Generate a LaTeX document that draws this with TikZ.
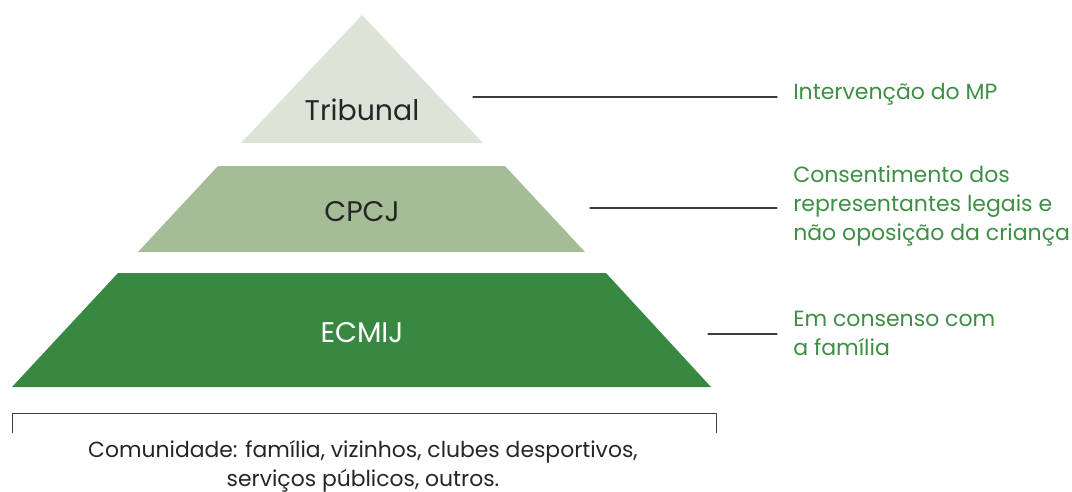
\documentclass[tikz,border=0pt]{standalone}
\usepackage{fontspec}
\setmainfont{Poppins}
\usepackage{tikz}
\usetikzlibrary{positioning}
\definecolor{tribunalfill}{HTML}{DCE4D7}
\definecolor{cpcjfill}{HTML}{A4BD97}
\definecolor{ecmijfill}{HTML}{398842}
\definecolor{labelgreen}{HTML}{3E8F45}
\definecolor{leadgray}{HTML}{3C3C3C}
\tikzset{
  level/.style={font=\fontsize{21.3}{24}\selectfont},
  side/.style={anchor=west,align=left,inner xsep=12pt,text=labelgreen,
    font=\fontsize{16.5}{21.8}\selectfont},
  leader/.style={draw=leadgray,line width=0.9pt},
}
\begin{document}
\begin{tikzpicture}[line cap=round,line join=round,x=0.75pt,y=-0.75pt]
                \useasboundingbox (0,0) rectangle (1072,492);
                \fill [color=tribunalfill] (362,15)-- (483,143)-- (241,143)-- cycle;
                \fill [color=cpcjfill] (218,166)-- (505,166)-- (585,252)-- (138,252)-- cycle;
                \fill [color=ecmijfill] (118,273)-- (606,273)-- (711,387)-- (12,387)-- cycle;
                \node [level,text=black!85] (tribunal) at (362,110) {Tribunal};
                \node [level,text=black!85] (cpcj) at (362,212) {CPCJ};
                \node [level,text=white] (ecmij) at (362,333) {ECMIJ};
                \coordinate (lead1) at (473,97);
                \coordinate (lead2) at (590,208);
                \coordinate (lead3) at (708,334);
                \node [side] (mp) at (777,94) {Intervenção do MP};
                \node [side] (consent) at (777,206) {Consentimento dos\\representantes legais e\\não oposição da criança};
                \node [side] (consenso) at (777,333) {Em consenso com\\a família};
                \draw [leader] (lead1)-- (lead1 -| mp.west);
                \draw [leader] (lead2)-- (lead2 -| consent.west);
                \draw [leader] (lead3)-- (lead3 -| consenso.west);
                \draw [line width=0.7pt,color=leadgray,line cap=butt] (12,433)-- (12,413)-- (716,413)-- (716,433);
                \node [align=center,inner sep=0pt,text=black!85,font=\fontsize{16.4}{21.6}\selectfont] (comunidade) at (363,466) {Comunidade: família, vizinhos, clubes desportivos,\\serviços públicos, outros.};
\end{tikzpicture}
\end{document}
